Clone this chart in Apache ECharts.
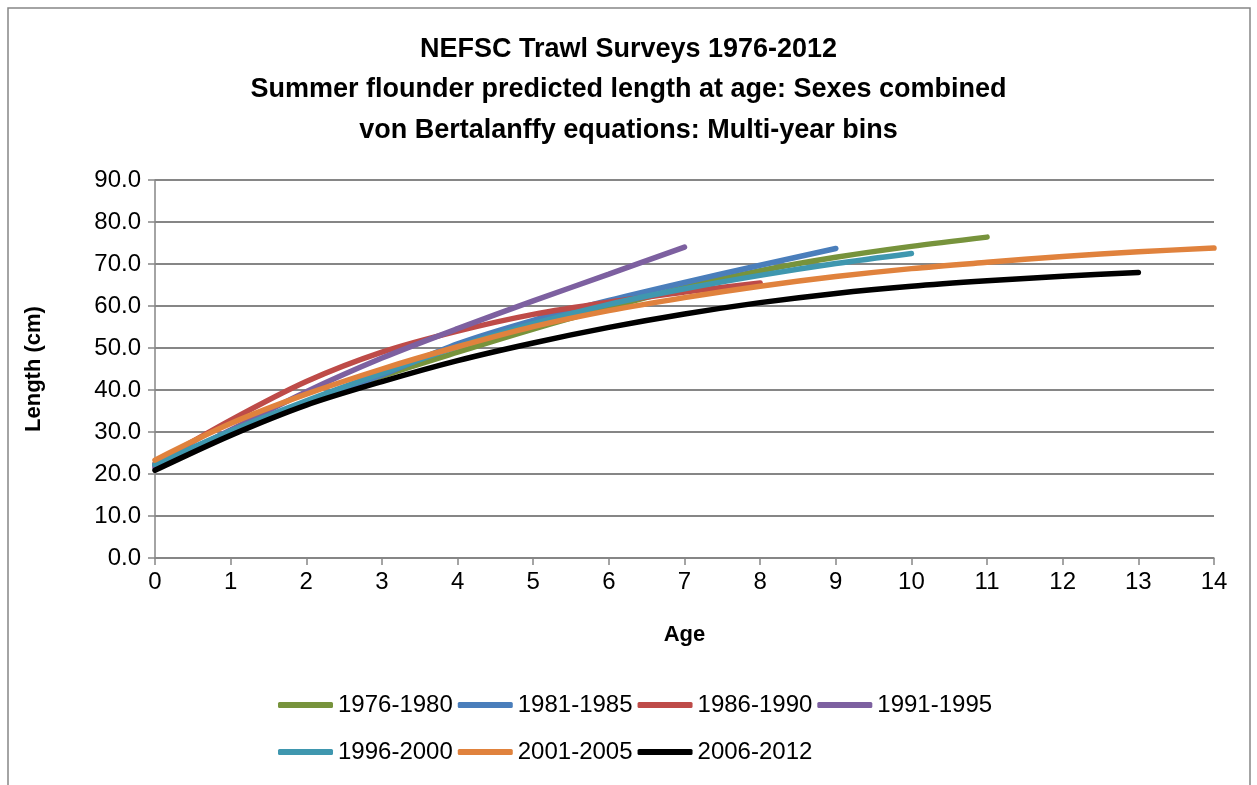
<!DOCTYPE html>
<html>
<head>
<meta charset="utf-8">
<script src="https://cdn.jsdelivr.net/npm/echarts@6/dist/echarts.min.js"></script>
<style>
  html, body { margin: 0; padding: 0; background: #fff; }
  #chart { width: 1257px; height: 785px; }
</style>
</head>
<body>
<div id="chart"></div>
<script>
// length at age (cm), index = age
const seriesNames = ['1976-1980', '1981-1985', '1986-1990', '1991-1995', '1996-2000', '2001-2005', '2006-2012']
const len1976 = [22.0, 30.0, 37.0, 43.3, 49.0, 54.5, 59.6, 64.4, 68.4, 71.6, 74.2, 76.4]
const len1981 = [22.0, 30.0, 37.0, 43.6, 51.0, 56.6, 61.3, 65.6, 69.7, 73.7]
const len1986 = [22.5, 32.8, 42.0, 49.0, 54.0, 58.0, 60.9, 63.3, 65.5]
const len1991 = [21.5, 30.5, 39.6, 47.6, 54.6, 61.2, 67.6, 74.0]
const len1996 = [22.3, 30.2, 37.4, 44.0, 50.3, 55.8, 60.4, 64.1, 67.3, 70.1, 72.5]
const len2001 = [23.3, 32.0, 39.0, 45.0, 50.3, 55.1, 58.9, 62.0, 64.7, 67.0, 68.9, 70.4, 71.8, 72.9, 73.8]
const len2006 = [20.9, 29.2, 36.4, 42.0, 47.0, 51.2, 54.9, 58.1, 60.8, 63.0, 64.7, 66.0, 67.1, 68.0]
const colors = ['#77933C', '#4A7EBB', '#BE4B48', '#7D60A0', '#3F97AF', '#E0823D', '#000000']

const allLengths = [len1976, len1981, len1986, len1991, len1996, len2001, len2006]
const font = '"Liberation Sans", Arial, sans-serif'

const chart = echarts.init(document.getElementById('chart'))

const series = allLengths.map((arr, i) => {
  return {
    name: seriesNames[i],
    type: 'line',
    smooth: 0.3,
    symbol: 'none',
    data: arr.map((v, age) => [age, v]),
    lineStyle: { width: 5.5, color: colors[i], cap: 'round' },
    itemStyle: { color: colors[i] }
  }
})

const legendBase = {
  left: 278,
  icon: 'roundRect',
  itemWidth: 55,
  itemHeight: 6,
  itemGap: 5,
  padding: 0,
  textStyle: { fontFamily: font, fontSize: 24, color: '#000' }
}

const option = {
  animation: false,
  color: colors,
  title: {
    text: 'NEFSC Trawl Surveys 1976-2012\nSummer flounder predicted length at age: Sexes combined\nvon Bertalanffy equations: Multi-year bins',
    left: 'center',
    top: 24,
    textStyle: { fontFamily: font, fontSize: 27, fontWeight: 'bold', color: '#000', lineHeight: 40.5 }
  },
  graphic: [{
    type: 'rect',
    shape: { x: 8, y: 8, width: 1242, height: 800 },
    style: { fill: 'none', stroke: '#868686', lineWidth: 1.5 },
    silent: true
  }],
  legend: [
    Object.assign({}, legendBase, { top: 693, data: seriesNames.slice(0, 4) }),
    Object.assign({}, legendBase, { top: 740, data: seriesNames.slice(4) })
  ],
  grid: { left: 155, right: 43, top: 180, bottom: 227 },
  xAxis: {
    type: 'value',
    min: 0,
    max: 14,
    interval: 1,
    name: 'Age',
    nameLocation: 'middle',
    nameGap: 66,
    nameTextStyle: { fontFamily: font, fontSize: 22, fontWeight: 'bold', color: '#000' },
    axisLine: { lineStyle: { color: '#868686', width: 1.5 } },
    axisTick: { show: true, length: 7, inside: false, lineStyle: { color: '#868686', width: 1.5 } },
    axisLabel: { fontFamily: font, fontSize: 24, color: '#000', margin: 12 },
    splitLine: { show: false }
  },
  yAxis: {
    type: 'value',
    min: 0,
    max: 90,
    interval: 10,
    name: 'Length (cm)',
    nameLocation: 'middle',
    nameGap: 110,
    nameRotate: 90,
    nameTextStyle: { fontFamily: font, fontSize: 22, fontWeight: 'bold', color: '#000' },
    axisLine: { show: true, lineStyle: { color: '#868686', width: 1.5 } },
    axisTick: { show: true, length: 7, lineStyle: { color: '#868686', width: 1.5 } },
    axisLabel: {
      fontFamily: font, fontSize: 24, color: '#000', margin: 14,
      formatter: v => v.toFixed(1)
    },
    splitLine: { lineStyle: { color: '#868686', width: 2 } }
  },
  series: series
}

chart.setOption(option)
</script>
</body>
</html>
